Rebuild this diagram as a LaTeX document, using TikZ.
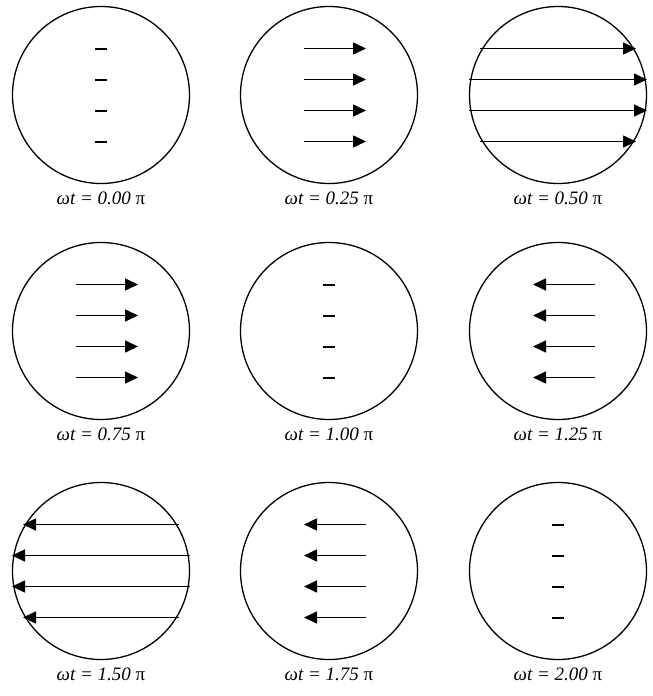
\documentclass[tikz,border=0pt]{standalone}
\usepackage{fontspec}
\setmainfont{Liberation Serif}
\usepackage{tikz}
\usetikzlibrary{arrows.meta,positioning,calc}
\tikzset{
  ring/.style={draw, circle, minimum size=177pt, inner sep=0pt, line width=1.3pt},
  phaselab/.style={font=\fontsize{19}{21}\selectfont\itshape, inner sep=0pt},
  fieldarrow/.style={-{Triangle[length=13pt,width=12pt]}, line width=1.6pt},
  nullmark/.style={line width=2pt},
}
\newcommand{\phaselabel}[1]{ωt = #1 {\upshape π}}

\begin{document}
\begin{tikzpicture}[x=1pt,y=-1pt]
  \useasboundingbox (0,0) rectangle (653,696);
  % the nine phases
  \node[ring] (p1) at (101,95) {};
  \node[ring] (p2) at (329,95) {};
  \node[ring] (p3) at (558,95) {};
  \node[ring] (p4) at (101,331) {};
  \node[ring] (p5) at (329,331) {};
  \node[ring] (p6) at (558,331) {};
  \node[ring] (p7) at (101,571) {};
  \node[ring] (p8) at (329,571) {};
  \node[ring] (p9) at (558,571) {};
  \foreach \k/\v in {1/0.00,2/0.25,3/0.50,4/0.75,5/1.00,6/1.25,7/1.50,8/1.75,9/2.00}
    \node[phaselab, below=8pt of p\k] (l\k) {\phaselabel{\v}};

  % zero field
  \foreach \p in {p1,p5,p9}
    \foreach \dy in {-46.5,-15.5,15.5,46.5}
      \draw[nullmark] ($(\p)+(-6,\dy)$) -- ($(\p)+(6,\dy)$);
  % short arrows
  \foreach \p in {p2,p4}
    \foreach \dy in {-46.5,-15.5,15.5,46.5}
      \draw[fieldarrow] ($(\p)+(-25,\dy)$) -- ($(\p)+(37,\dy)$);
  \foreach \p in {p6,p8}
    \foreach \dy in {-46.5,-15.5,15.5,46.5}
      \draw[fieldarrow] ($(\p)+(37,\dy)$) -- ($(\p)+(-25,\dy)$);
  % full field
  \foreach \dy/\w in {-46.5/78,-15.5/89,15.5/89,46.5/78} {
    \draw[fieldarrow] ($(p3)+(-\w,\dy)$) -- ($(p3)+(\w,\dy)$);
    \draw[fieldarrow] ($(p7)+(\w,\dy)$) -- ($(p7)+(-\w,\dy)$);
  }
\end{tikzpicture}
\end{document}
